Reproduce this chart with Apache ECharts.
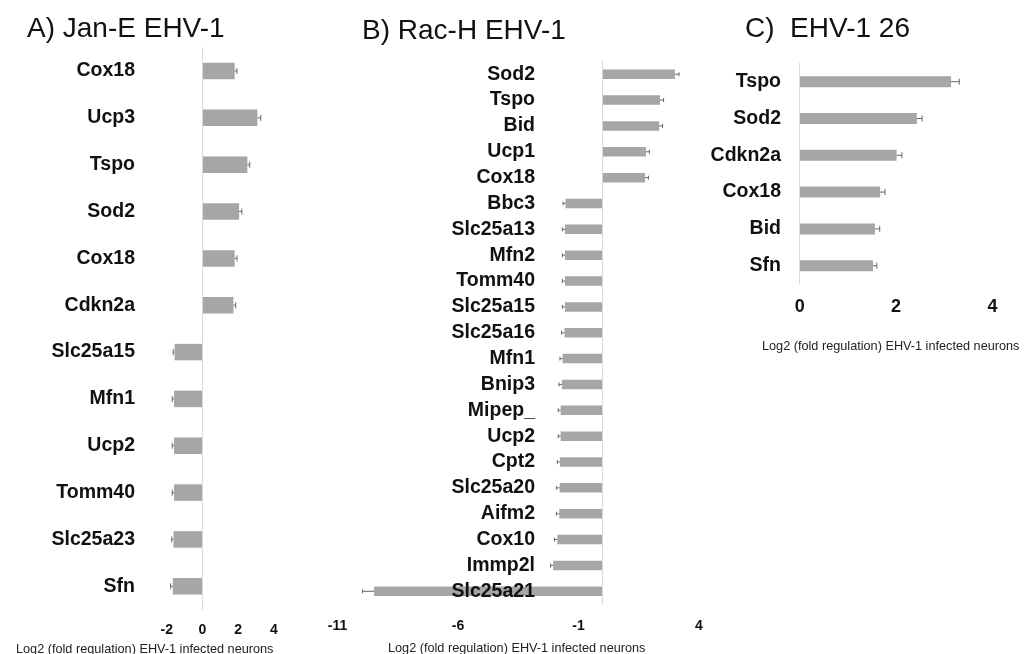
<!DOCTYPE html>
<html>
<head>
<meta charset="utf-8">
<script src="https://cdn.jsdelivr.net/npm/echarts@6/dist/echarts.min.js"></script>
<style>html,body{margin:0;padding:0;background:#fff;}#chart{width:1032px;height:654px;}</style>
</head>
<body>
<div id="chart"></div>
<script>
// ---- data ----
const catA = ['Cox18','Ucp3','Tspo','Sod2','Cox18','Cdkn2a','Slc25a15','Mfn1','Ucp2','Tomm40','Slc25a23','Sfn'];
const valA = [1.80, 3.07, 2.51, 2.05, 1.80, 1.73, -1.56, -1.59, -1.59, -1.59, -1.62, -1.66];
const errA = [0.13, 0.19, 0.13, 0.15, 0.13, 0.13, 0.08, 0.10, 0.10, 0.10, 0.10, 0.12];

const catB = ['Sod2','Tspo','Bid','Ucp1','Cox18','Bbc3','Slc25a13','Mfn2','Tomm40','Slc25a15','Slc25a16','Mfn1','Bnip3','Mipep_','Ucp2','Cpt2','Slc25a20','Aifm2','Cox10','Immp2l','Slc25a21'];
const valB = [3.00, 2.38, 2.35, 1.80, 1.76, -1.54, -1.56, -1.56, -1.56, -1.56, -1.58, -1.66, -1.69, -1.74, -1.74, -1.77, -1.78, -1.80, -1.88, -2.05, -9.48];
const errB = [0.17, 0.15, 0.14, 0.14, 0.14, 0.10, 0.11, 0.11, 0.11, 0.11, 0.12, 0.11, 0.12, 0.10, 0.10, 0.11, 0.14, 0.12, 0.12, 0.11, 0.48];

const catC = ['Tspo','Sod2','Cdkn2a','Cox18','Bid','Sfn'];
const valC = [3.14, 2.43, 2.01, 1.67, 1.56, 1.52];
const errC = [0.17, 0.11, 0.11, 0.10, 0.10, 0.08];

const ticksA = [-2, 0, 2, 4];
const ticksB = [-11, -6, -1, 4];
const ticksC = [0, 2, 4];

const titleA = 'A) Jan-E EHV-1';
const titleB = 'B) Rac-H EHV-1';
const titleC = 'C)  EHV-1 26';
const axisTitle = 'Log2 (fold regulation) EHV-1 infected neurons';

// ---- chart ----
const FONT = '"Liberation Sans", Arial, sans-serif';
const BAR = '#a6a6a6';
const ERR = '#666666';
const AXIS = '#d9d9d9';

function errRender(cap) {
  return function (params, api) {
    const v = api.value(0), idx = api.value(1), e = api.value(2);
    const end = v >= 0 ? v + e : v - e;
    const p0 = api.coord([v, idx]);
    const p1 = api.coord([end, idx]);
    const st = { stroke: ERR, lineWidth: 1 };
    return {
      type: 'group',
      children: [
        { type: 'line', shape: { x1: p0[0], y1: p0[1], x2: p1[0], y2: p1[1] }, style: st },
        { type: 'line', shape: { x1: p1[0], y1: p1[1] - cap, x2: p1[0], y2: p1[1] + cap }, style: st }
      ]
    };
  };
}

function xAxisDef(gi, min, max, ticks, fs, margin) {
  return {
    gridIndex: gi, type: 'value', min: min, max: max,
    axisLine: { show: false }, axisTick: { show: false }, splitLine: { show: false },
    axisLabel: { customValues: ticks, fontFamily: FONT, fontWeight: 'bold', fontSize: fs, color: '#111', margin: margin }
  };
}
function yAxisDef(gi, cats, margin, fs) {
  return {
    gridIndex: gi, type: 'category', data: cats, inverse: true, z: 5,
    axisLine: { show: true, onZero: true, lineStyle: { color: AXIS, width: 1 } },
    axisTick: { show: false }, splitLine: { show: false },
    axisLabel: { fontFamily: FONT, fontWeight: 'bold', fontSize: fs, color: '#111', margin: margin, interval: 0 }
  };
}
function pairs(vals, errs) { return vals.map((v, i) => [v, i, errs[i]]); }

const chart = echarts.init(document.getElementById('chart'), null, { renderer: 'canvas' });
chart.setOption({
  animation: false,
  backgroundColor: '#fff',
  grid: [
    { left: 166.7, top: 47.6, width: 107.3, height: 562.1, containLabel: false },
    { left: 337.5, top: 61.3, width: 361.5, height: 542.9, containLabel: false },
    { left: 799.7, top: 63.3, width: 192.8, height: 220.8, containLabel: false }
  ],
  xAxis: [
    xAxisDef(0, -2, 4, ticksA, 14, 13.5),
    xAxisDef(1, -11, 4, ticksB, 14, 14.5),
    xAxisDef(2, 0, 4, ticksC, 18, 13.5)
  ],
  yAxis: [
    yAxisDef(0, catA, 31.7, 19.5),
    yAxisDef(1, catB, -197.5, 19.5),
    yAxisDef(2, catC, 18.7, 19.5)
  ],
  series: [
    { type: 'bar', xAxisIndex: 0, yAxisIndex: 0, data: valA, barWidth: 16.5, itemStyle: { color: BAR }, z: 2 },
    { type: 'bar', xAxisIndex: 1, yAxisIndex: 1, data: valB, barWidth: 9.5, itemStyle: { color: BAR }, z: 2 },
    { type: 'bar', xAxisIndex: 2, yAxisIndex: 2, data: valC, barWidth: 11, itemStyle: { color: BAR }, z: 2 },
    { type: 'custom', xAxisIndex: 0, yAxisIndex: 0, data: pairs(valA, errA), encode: { x: 0, y: 1 }, renderItem: errRender(3), z: 3 },
    { type: 'custom', xAxisIndex: 1, yAxisIndex: 1, data: pairs(valB, errB), encode: { x: 0, y: 1 }, renderItem: errRender(2), z: 3 },
    { type: 'custom', xAxisIndex: 2, yAxisIndex: 2, data: pairs(valC, errC), encode: { x: 0, y: 1 }, renderItem: errRender(3), z: 3 }
  ],
  graphic: [
    { type: 'text', left: 27, top: 15.5, style: { text: titleA, font: '28px ' + FONT, fill: '#111' } },
    { type: 'text', left: 362, top: 17.5, style: { text: titleB, font: '28px ' + FONT, fill: '#111' } },
    { type: 'text', left: 745, top: 15.5, style: { text: titleC, font: '28px ' + FONT, fill: '#111' } },
    { type: 'text', left: 16, top: 643, style: { text: axisTitle, font: '12.7px ' + FONT, fill: '#222' } },
    { type: 'text', left: 388, top: 642, style: { text: axisTitle, font: '12.7px ' + FONT, fill: '#222' } },
    { type: 'text', left: 762, top: 340, style: { text: axisTitle, font: '12.7px ' + FONT, fill: '#222' } }
  ]
});
</script>
</body>
</html>
